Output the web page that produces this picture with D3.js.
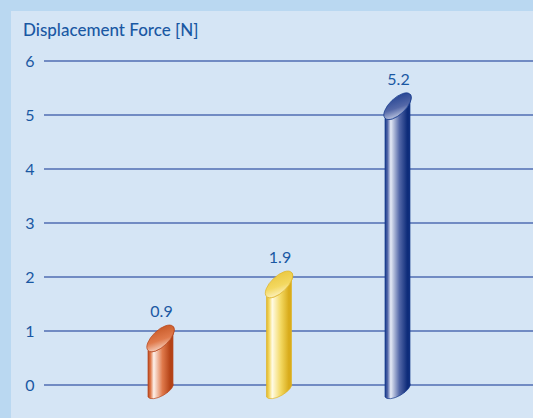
<!DOCTYPE html>
<html>
<head>
<meta charset="utf-8">
<script src="https://cdn.jsdelivr.net/npm/d3@7/dist/d3.min.js"></script>
<style>
  html, body { margin: 0; padding: 0; background: #bad8f1; }
  svg { display: block; }
</style>
</head>
<body>
<div id="chart"></div>
<script>
const categories = ["A", "B", "C"];
const values = [0.9, 1.9, 5.2];
const labels = ["0.9", "1.9", "5.2"];
const yTicks = [0, 1, 2, 3, 4, 5, 6];
const title = "Displacement Force [N]";

const W = 533, H = 418;
const palettes = [
  {rim: "#b8461c", light: "#fdf1ea", mid: "#e07a4c", dark: "#b44216", capDark: "#c2521f"},
  {rim: "#e0b52a", light: "#fffbe6", mid: "#f3d860", dark: "#d9ac1c", capDark: "#e8c43a"},
  {rim: "#163a8c", light: "#e6ebf6", mid: "#5468a8", dark: "#0e2c7a", capDark: "#1a3c8e"}
];
const font = "Lato, 'Open Sans', sans-serif";
const ink = "#1a58a3";

const svg = d3.select("#chart").append("svg")
  .attr("width", W).attr("height", H);

// panel
svg.append("rect").attr("x", 11).attr("y", 11)
  .attr("width", W - 11).attr("height", H - 11)
  .attr("fill", "#d5e5f5");

const y = d3.scaleLinear().domain([0, 6]).range([385, 61]);
const x = d3.scalePoint().domain(categories).range([42, 516]).padding(1);

svg.append("text")
  .attr("x", 23).attr("y", 36)
  .attr("font-family", font)
  .attr("font-size", 17)
  .attr("font-weight", 500)
  .attr("fill", ink)
  .text(title);

const grid = svg.append("g");
grid.selectAll("line").data(yTicks).enter().append("line")
  .attr("x1", 44).attr("x2", W)
  .attr("y1", d => y(d)).attr("y2", d => y(d))
  .attr("stroke", "#4f6db2").attr("stroke-width", 1.6);
grid.selectAll("text").data(yTicks).enter().append("text")
  .attr("x", 30).attr("y", d => y(d) + 5.5)
  .attr("text-anchor", "middle")
  .attr("font-family", font)
  .attr("font-size", 16)
  .attr("fill", ink)
  .text(d => d);

// gradients
const defs = svg.append("defs");
palettes.forEach((p, i) => {
  const g = defs.append("linearGradient").attr("id", "body" + i)
    .attr("x1", 0).attr("x2", 1).attr("y1", 0).attr("y2", 0);
  g.append("stop").attr("offset", "0%").attr("stop-color", p.rim);
  g.append("stop").attr("offset", "10%").attr("stop-color", p.mid);
  g.append("stop").attr("offset", "22%").attr("stop-color", p.light);
  g.append("stop").attr("offset", "55%").attr("stop-color", p.mid);
  g.append("stop").attr("offset", "85%").attr("stop-color", p.dark);
  g.append("stop").attr("offset", "100%").attr("stop-color", p.dark);
  const c = defs.append("linearGradient").attr("id", "cap" + i)
    .attr("x1", 0).attr("y1", 1).attr("x2", 1).attr("y2", 0);
  c.append("stop").attr("offset", "0%").attr("stop-color", p.light);
  c.append("stop").attr("offset", "45%").attr("stop-color", p.mid);
  c.append("stop").attr("offset", "100%").attr("stop-color", p.capDark);
});

const half = 12.5, slant = 12, slantB = 7, ry = 8, ryB = 6;
const rxTop = Math.sqrt(half * half + slant * slant);
const rxBot = Math.sqrt(half * half + slantB * slantB);
const angTop = Math.atan2(-slant, half) * 180 / Math.PI;
const angBot = Math.atan2(-slantB, half) * 180 / Math.PI;

const bars = svg.selectAll(".bar").data(values).enter().append("g").attr("class", "bar");

bars.append("path")
  .attr("d", (d, i) => {
    const cx = x(categories[i]);
    const yt = y(d) + 2, yb = y(0) + 5;
    return "M" + (cx - half) + "," + (yt + slant) +
      " L" + (cx - half) + "," + (yb + slantB) +
      " A" + rxBot + "," + ryB + " " + angBot + " 0 0 " + (cx + half) + "," + (yb - slantB) +
      " L" + (cx + half) + "," + (yt - slant) +
      " A" + rxTop + "," + ry + " " + angTop + " 0 1 " + (cx - half) + "," + (yt + slant) + " Z";
  })
  .attr("fill", (d, i) => "url(#body" + i + ")")
  .attr("stroke", (d, i) => palettes[i].rim)
  .attr("stroke-width", 0.7);

bars.append("ellipse")
  .attr("cx", 0).attr("cy", 0)
  .attr("rx", rxTop).attr("ry", ry)
  .attr("transform", (d, i) => "translate(" + x(categories[i]) + "," + (y(d) + 2) + ") rotate(" + angTop + ")")
  .attr("fill", (d, i) => "url(#cap" + i + ")")
  .attr("stroke", (d, i) => palettes[i].rim)
  .attr("stroke-width", 0.7);

bars.append("text")
  .attr("x", (d, i) => x(categories[i]) + 1)
  .attr("y", d => y(d) - 19)
  .attr("text-anchor", "middle")
  .attr("font-family", font)
  .attr("font-size", 16)
  .attr("fill", ink)
  .text((d, i) => labels[i]);
</script>
</body>
</html>
